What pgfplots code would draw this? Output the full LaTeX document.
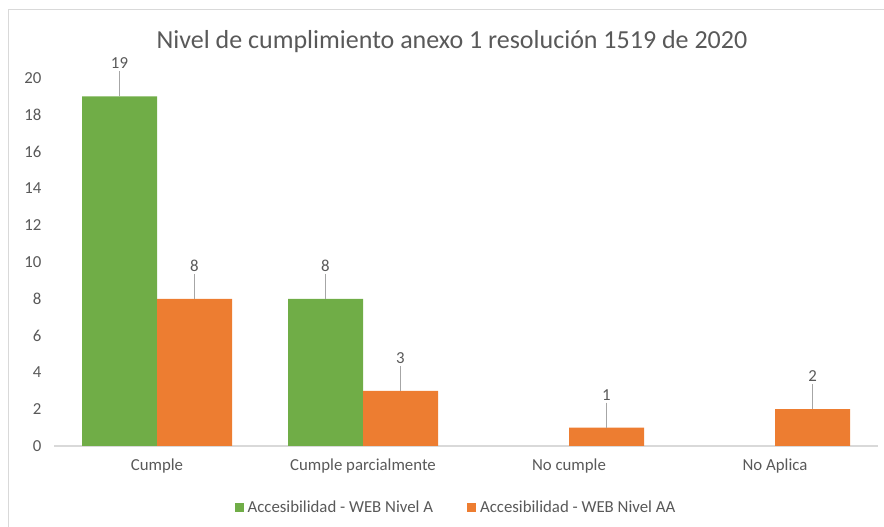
\documentclass[border=0pt]{standalone}
\usepackage{fontspec}
\setmainfont{Carlito}
\usepackage{pgfplots}
\pgfplotsset{compat=1.18}
\definecolor{verde}{HTML}{70AD47}
\definecolor{naranja}{HTML}{ED7D31}
\definecolor{texto}{HTML}{595959}
\definecolor{lineaeje}{HTML}{D9D9D9}
\definecolor{guia}{HTML}{A6A6A6}
\begin{document}
\begin{tikzpicture}
  % marco del grafico
  \path[use as bounding box] (0pt,0pt) rectangle (884pt,527pt);
  \draw[lineaeje, line width=1.2pt] (8.5pt,0pt) -- (8.5pt,517.5pt) -- (884pt,517.5pt);
  \node[text=texto, font=\fontsize{26}{30}\selectfont] at (452pt,485pt)
    {Nivel de cumplimiento anexo 1 resolución 1519 de 2020};

  \begin{axis}[
    at={(54pt,81pt)}, anchor=south west,
    scale only axis,
    width=824pt, height=368pt,
    xmin=-0.5, xmax=3.5,
    ymin=0, ymax=20,
    enlargelimits=false,
    clip=false,
    ybar=0pt, bar width=75pt,
    axis x line=bottom,
    axis y line=left,
    x axis line style={draw=lineaeje, line width=1.2pt, -},
    y axis line style={draw=none},
    major tick length=0pt,
    xtick={0,1,2,3},
    xticklabels={Cumple, Cumple parcialmente, No cumple, No Aplica},
    ytick={0,2,...,20},
    /pgf/number format/assume math mode=true,
    tick label style={text=texto, font=\fontsize{16.8}{19}\selectfont},
    xticklabel style={yshift=-9pt},
    yticklabel style={xshift=-9pt},
    nodes near coords,
    every node near coord/.append style={text=texto, font=\fontsize{16.8}{19}\selectfont,
      anchor=south, yshift=24pt},
    error bars/y dir=plus,
    error bars/y explicit,
    error bars/error mark=none,
    error bars/error bar style={draw=guia, line width=1pt},
    legend style={draw=none, at={(0.489,-0.167)}, anchor=center,
      legend columns=2, text=texto, font=\fontsize{16.8}{19}\selectfont,
      /tikz/every even column/.append style={column sep=30pt},
      nodes={inner xsep=4pt}},
    legend image code/.code={\path[#1] (0pt,-4.5pt) rectangle (9pt,4.5pt);},
  ]
  \addplot[fill=verde, draw=none] coordinates {
    (0,19) +- (0,1.36)
    (1,8)  +- (0,1.36)
  };
  \addplot[fill=naranja, draw=none] coordinates {
    (0,8) +- (0,1.36)
    (1,3) +- (0,1.36)
    (2,1) +- (0,1.36)
    (3,2) +- (0,1.36)
  };
  \legend{Accesibilidad - WEB Nivel A, Accesibilidad - WEB Nivel AA}
  \end{axis}
\end{tikzpicture}
\end{document}
